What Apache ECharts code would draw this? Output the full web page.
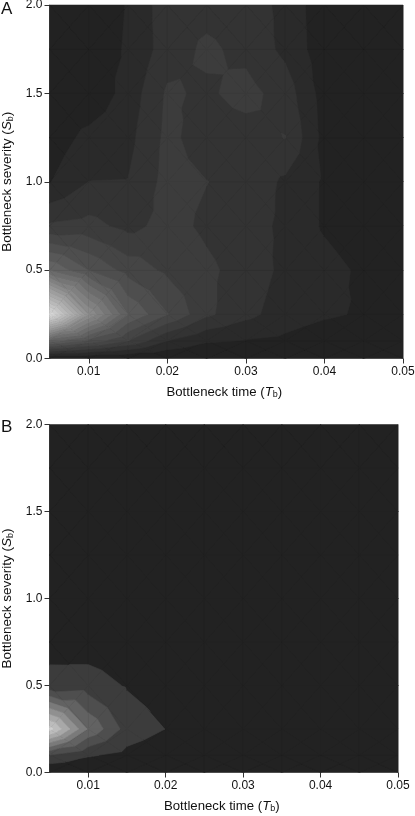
<!DOCTYPE html>
<html>
<head>
<meta charset="utf-8">
<style>
  html, body { margin: 0; padding: 0; background: #fff; }
  #chart { width: 415px; height: 816px; }
</style>
<script src="https://cdn.jsdelivr.net/npm/echarts@6/dist/echarts.min.js"></script>
</head>
<body>
<div id="chart"></div>
<script>
const bottleneckTimes = [0.005, 0.01, 0.015, 0.02, 0.025, 0.03, 0.035, 0.04, 0.045, 0.05];
const bottleneckSeverities = [0, 0.1, 0.25, 0.5, 0.75, 1, 1.25, 1.5, 1.75, 2];

const timeTicks = [0.01, 0.02, 0.03, 0.04, 0.05];

// contour height, one row per severity (bottom row first),
// in units of contour bands
const surfaceA = [
  [0, 0, 0, 0, 0, 0, 0, 0, 0, 0],
  [7.5, 5.7, 4, 2, 1.13, 0.95, 0.8, 0.4, 0.3, 0.2],
  [20, 12, 7, 5.05, 3.2, 2.3, 1.5, 1.15, 0.89, 0.4],
  [8, 6, 4.6, 3.8, 3.2, 2.6, 1.75, 1.4, 0.8, 0.35],
  [3.13, 3.33, 2.7, 3.34, 2.82, 2.4, 1.8, 0.87, 0.3, 0.2],
  [0.95, 2.01, 2.03, 3.34, 3.02, 2.7, 1.82, 0.87, 0.25, 0.15],
  [0.4, 1.3, 1.7, 3.26, 2.5, 2.56, 3.03, 0.67, 0.25, 0.15],
  [0.2, 0.2, 1.4, 3.15, 2.84, 3.36, 2.55, 0.55, 0.2, 0.15],
  [0.3, 0.5, 1.1, 2.5, 3.19, 2.72, 1.76, 0.4, 0.2, 0.15],
  [0.3, 0.45, 1.05, 2.6, 2.65, 2.5, 1.74, 0.32, 0.2, 0.15],
];

const surfaceB = [
  [0, 0, 0, 0, 0, 0, 0, 0, 0, 0],
  [2, 1.12, 0.7, 0.3, 0.1, 0, 0, 0, 0, 0],
  [8.4, 3.9, 1.6, 0.99, 0.3, 0.1, 0, 0, 0, 0],
  [1.29, 1.49, 0.92, 0.5, 0.2, 0.1, 0, 0, 0, 0],
  [0.68, 0.47, 0.3, 0.2, 0.1, 0, 0, 0, 0, 0],
  [0.2, 0.15, 0.1, 0.1, 0, 0, 0, 0, 0, 0],
  [0.1, 0.1, 0, 0, 0, 0, 0, 0, 0, 0],
  [0, 0, 0, 0, 0, 0, 0, 0, 0, 0],
  [0, 0, 0, 0, 0, 0, 0, 0, 0, 0],
  [0, 0, 0, 0, 0, 0, 0, 0, 0, 0],
];

// grey of each contour band, darkest first
const bandGraysA = [34, 42, 51, 60, 69, 78, 88, 98, 108, 118, 128, 138, 148, 158, 167, 176, 185, 195, 204, 214, 224];
const bandGraysB = [34, 60, 78, 98, 122, 144, 168, 188, 208];

const fontFamily = '"Liberation Sans", Arial, sans-serif';

const bandColor = (band, grays) => {
  const g = grays[Math.min(band, grays.length - 1)];
  return `rgb(${g},${g},${g})`;
};

// one data row per grid cell: corners, then heights at those corners
const toCells = (surface) => {
  const cells = [];
  for (let j = 0; j < bottleneckSeverities.length - 1; j++) {
    for (let i = 0; i < bottleneckTimes.length - 1; i++) {
      cells.push([
        bottleneckTimes[i],
        bottleneckSeverities[j],
        bottleneckTimes[i + 1],
        bottleneckSeverities[j + 1],
        surface[j][i],
        surface[j][i + 1],
        surface[j + 1][i + 1],
        surface[j + 1][i],
      ]);
    }
  }
  return cells;
};

// keep the part of a polygon on one side of a height
const clipByHeight = (verts, level, keepAbove) => {
  const out = [];
  verts.forEach((a, idx) => {
    const b = verts[(idx + 1) % verts.length];
    const aIn = keepAbove ? a[2] >= level : a[2] <= level;
    const bIn = keepAbove ? b[2] >= level : b[2] <= level;
    if (aIn) out.push(a);
    if (aIn !== bIn) {
      const t = (level - a[2]) / (b[2] - a[2]);
      out.push([a[0] + (b[0] - a[0]) * t, a[1] + (b[1] - a[1]) * t, level]);
    }
  });
  return out;
};

const renderCell = (grays) => (params, api) => {
  const x0 = api.value(0);
  const y0 = api.value(1);
  const x1 = api.value(2);
  const y1 = api.value(3);
  const corners = [
    [x0, y0, api.value(4)],
    [x1, y0, api.value(5)],
    [x1, y1, api.value(6)],
    [x0, y1, api.value(7)],
  ];
  const mid = [
    (x0 + x1) / 2,
    (y0 + y1) / 2,
    (corners[0][2] + corners[1][2] + corners[2][2] + corners[3][2]) / 4,
  ];
  const children = [];
  for (let c = 0; c < 4; c++) {
    const tri = [corners[c], corners[(c + 1) % 4], mid];
    const zs = tri.map((v) => v[2]);
    const lowBand = Math.floor(Math.min(...zs));
    const highBand = Math.floor(Math.max(...zs));
    for (let band = lowBand; band <= highBand; band++) {
      const piece = clipByHeight(clipByHeight(tri, band, true), band + 1, false);
      if (piece.length < 3) continue;
      const fill = bandColor(band, grays);
      children.push({
        type: 'polygon',
        shape: { points: piece.map((v) => api.coord([v[0], v[1]])) },
        style: { fill, stroke: fill, lineWidth: 0.6 },
        silent: true,
      });
    }
  }
  return { type: 'group', children };
};

const nameRich = (size) => ({
  n: { fontFamily, fontSize: size, color: '#111' },
  i: { fontFamily, fontSize: size, fontStyle: 'italic', color: '#111' },
  s: { fontFamily, fontSize: 9, color: '#111', verticalAlign: 'bottom', padding: [6, 0, 0, 0] },
});

const xAxisFor = (gridIndex) => ({
  gridIndex,
  type: 'value',
  min: 0.005,
  max: 0.05,
  name: '{n|Bottleneck time (}{i|T}{s|b}{n|)}',
  nameLocation: 'middle',
  nameGap: 26,
  nameTextStyle: { rich: nameRich(13.2), padding: [0, 4, 0, 0] },
  splitLine: { show: false },
  axisLine: { lineStyle: { color: '#777', width: 1 } },
  axisTick: { length: 5, lineStyle: { color: '#333' }, customValues: timeTicks },
  axisLabel: {
    fontFamily,
    fontSize: 12,
    color: '#111',
    margin: 7,
    customValues: timeTicks,
    formatter: (v) => v.toFixed(2),
  },
});

const yAxisFor = (gridIndex) => ({
  gridIndex,
  type: 'value',
  min: 0,
  max: 2,
  interval: 0.5,
  name: '{n|Bottleneck severity (}{i|S}{s|b}{n|)}',
  nameLocation: 'middle',
  nameGap: 33,
  nameTextStyle: { rich: nameRich(13.5) },
  splitLine: { show: false },
  axisLine: { lineStyle: { color: '#777', width: 1 } },
  axisTick: { length: 5, lineStyle: { color: '#333' } },
  axisLabel: {
    fontFamily,
    fontSize: 12,
    color: '#111',
    margin: 7,
    formatter: (v) => v.toFixed(1),
  },
});

const panelSeries = (index, surface, grays) => ({
  type: 'custom',
  xAxisIndex: index,
  yAxisIndex: index,
  data: toCells(surface),
  encode: { x: [0, 2], y: [1, 3] },
  renderItem: renderCell(grays),
  clip: true,
  silent: true,
  animation: false,
});

const chart = echarts.init(document.getElementById('chart'), null, { renderer: 'canvas' });

chart.setOption({
  animation: false,
  backgroundColor: '#fff',
  title: [
    { text: 'A', left: 1, top: 1, padding: 0, textStyle: { fontFamily, fontSize: 17, fontWeight: 'normal', color: '#111' } },
    { text: 'B', left: 1, top: 419, padding: 0, textStyle: { fontFamily, fontSize: 17, fontWeight: 'normal', color: '#111' } },
  ],
  grid: [
    { left: 49.5, top: 5, width: 353.5, height: 353.5, show: true, borderColor: '#888', borderWidth: 1, backgroundColor: '#222', outerBoundsMode: 'none' },
    { left: 49.5, top: 424.5, width: 348.5, height: 348, show: true, borderColor: '#888', borderWidth: 1, backgroundColor: '#222', outerBoundsMode: 'none' },
  ],
  xAxis: [xAxisFor(0), xAxisFor(1)],
  yAxis: [yAxisFor(0), yAxisFor(1)],
  series: [panelSeries(0, surfaceA, bandGraysA), panelSeries(1, surfaceB, bandGraysB)],
});
</script>
</body>
</html>
